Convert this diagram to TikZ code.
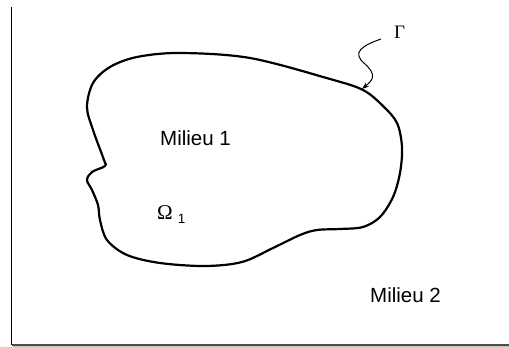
\documentclass[tikz,border=0pt]{standalone}
\usepackage{fontspec}
\setmainfont{Liberation Sans}
\newfontfamily\serifgr{Liberation Serif}
\usetikzlibrary{arrows.meta}
\begin{document}
\begin{tikzpicture}[x=1pt,y=-1pt,
  boundary/.style={line width=2.2pt,line join=round},
  txtlabel/.style={inner sep=0pt,anchor=base west,font=\fontsize{20.5}{24}\selectfont},
  greek/.style={inner sep=0pt,anchor=base west,font=\fontsize{19}{22}\selectfont\serifgr},
  pointer/.style={line width=1pt,-{Stealth[length=7pt,width=5pt]}}]
\useasboundingbox (0,0) rectangle (509,347);
% frame
\draw[line width=1.3pt] (11.7,7) -- (11.7,345);
\draw[line width=1.3pt,black!70] (11.7,345) -- (509,345);
\draw[line width=0.8pt,black!25] (12.5,346.6) -- (509,346.6);
% boundary Gamma
\draw[boundary] plot[smooth cycle,tension=0.55] coordinates {
 (180,53) (250,58) (330,79) (363,90) (383,106) (397,123) (402,147) (400,173)
 (393,197) (380,217) (363,227) (340,229) (317,230) (300,235) (273,248)
 (242,262) (205,266) (160,263) (127,255) (107,240) (100,220) (98,205)
 (92,190) (87,180) (92,172) (105,166) (104,160) (93,130) (87,107) (93,83)
 (110,67) (137,57)};
% labels
\node[txtlabel] (m1) at (160,146) {Milieu 1};
\node[txtlabel] (m2) at (370,303) {Milieu 2};
\node[greek] (om) at (157,220) {{\fontsize{21}{24}\selectfont Ω}\hspace{5pt}\raisebox{-4pt}{\fontsize{13.5}{15}\selectfont\rmfamily 1}};
\node[greek] (gam) at (394,39) {Γ};
\coordinate (gstart) at (381,39);
\coordinate (gtip) at (362,89);
\draw[pointer] (gstart) .. controls (364,45) and (350,52) .. (365,64)
  .. controls (377,75) and (373,80) .. (gtip);
\end{tikzpicture}
\end{document}
